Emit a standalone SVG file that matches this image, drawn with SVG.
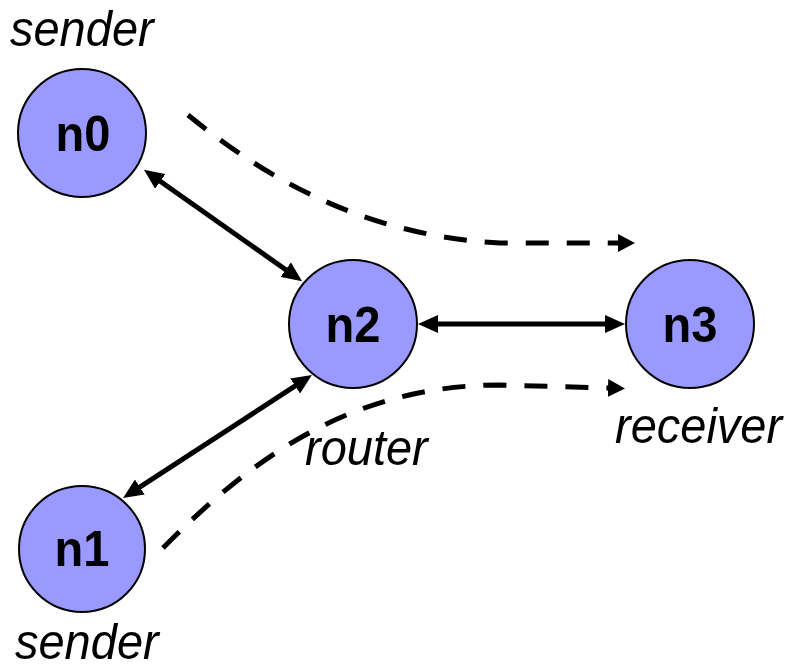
<svg xmlns="http://www.w3.org/2000/svg" width="790" height="672" viewBox="0 0 790 672">
  <style>
    .node circle { fill: #9999FF; stroke: #000; stroke-width: 2; }
    .node text { font-family: "Liberation Sans", Arial, sans-serif; font-weight: bold; font-size: 47px; text-anchor: middle; fill: #000; }
    .label { font-family: "Liberation Sans", Arial, sans-serif; font-style: italic; font-size: 47px; fill: #000; }
    .link { stroke: #000; stroke-width: 5; fill: none; marker-start: url(#arr); marker-end: url(#arr); }
    .flow { stroke: #000; stroke-width: 5; fill: none; stroke-dasharray: 23 18; marker-end: url(#flowhead); }
  </style>
  <defs>
    <marker id="arr" markerUnits="userSpaceOnUse" markerWidth="20" markerHeight="18" refX="1" refY="9" orient="auto-start-reverse" viewBox="0 0 20 18">
      <path d="M0,0 L20,9 L0,18 z" fill="#000"/>
    </marker>
    <marker id="flowhead" markerUnits="userSpaceOnUse" markerWidth="17" markerHeight="18" refX="0" refY="9" orient="auto" viewBox="0 0 17 18">
      <path d="M0,0 L17,9 L0,18 z" fill="#000"/>
    </marker>
  </defs>

  <g id="connectors">
    <path class="link" d="M159.5,180.8 L286.5,270.2"/>
    <path class="link" d="M437,324 L606,324"/>
    <path class="link" d="M139,487.6 L296,385.4"/>
    <path class="flow" d="M188,115 C250,165 350,235 500,243 L618,243"/>
    <path class="flow" d="M163,548 C250,460 350,385 500,385 L608,388"/>
  </g>

  <g id="n0" class="node">
    <circle cx="82" cy="133" r="64"/>
    <text transform="translate(83,151) scale(1,1.06)">n0</text>
  </g>
  <g id="n1" class="node">
    <circle cx="82" cy="549" r="63"/>
    <text transform="translate(82,566) scale(1,1.06)">n1</text>
  </g>
  <g id="n2" class="node">
    <circle cx="353" cy="324" r="64"/>
    <text transform="translate(353,342) scale(1,1.06)">n2</text>
  </g>
  <g id="n3" class="node">
    <circle cx="690" cy="324" r="64"/>
    <text transform="translate(690,342) scale(1,1.06)">n3</text>
  </g>

  <g id="labels">
    <text class="label" transform="translate(10,46) scale(1,1.07)">sender</text>
    <text class="label" transform="translate(15,659) scale(1,1.07)">sender</text>
    <text class="label" transform="translate(305,465) scale(1,1.07)">router</text>
    <text class="label" transform="translate(615,443) scale(1,1.07)">receiver</text>
  </g>
</svg>
